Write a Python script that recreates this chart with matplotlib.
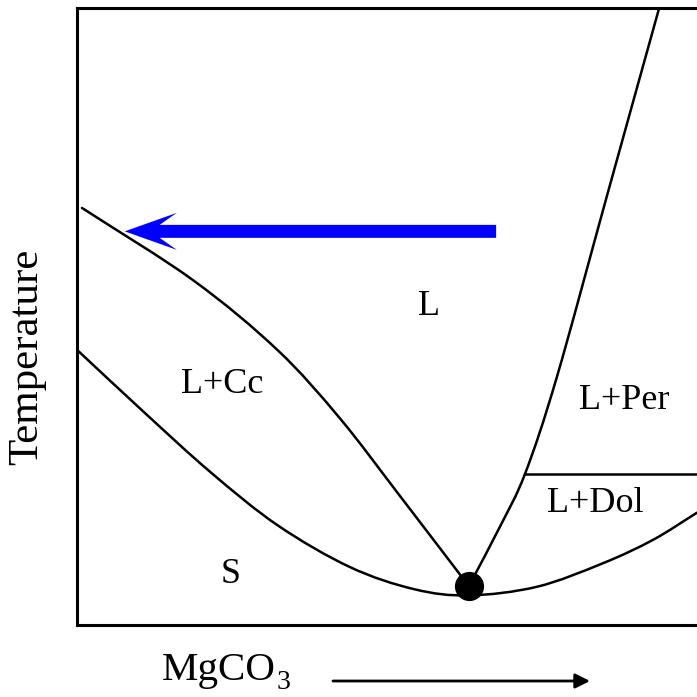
#!/usr/bin/env python3
import matplotlib
matplotlib.use('Agg')
import numpy as np
from matplotlib import pyplot as plt
from matplotlib.path import Path
from matplotlib.patches import PathPatch

plt.rcParams['font.family'] = ['Liberation Serif', 'DejaVu Serif']

# schematic phase boundaries (composition 0-100, temperature 0-100, arbitrary units)
solidus_x = [0.0, 10.8, 21.5, 32.3, 44.0, 54.4, 63.2, 74.2, 84.8, 92.9, 100.0]
solidus_y = [44.6, 34.5, 24.8, 16.2, 9.4, 5.8, 4.8, 6.2, 10.0, 13.8, 18.2]

cc_liquidus_x = [0.8, 18.7, 32.3, 42.4, 52.1, 63.2]
cc_liquidus_y = [67.6, 55.9, 44.6, 33.5, 20.9, 6.3]

per_liquidus_x = [93.9, 85.6, 77.4, 72.3, 68.2, 63.2]
per_liquidus_y = [100.0, 70.0, 40.2, 24.6, 15.9, 6.3]

dol_x = [72.3, 100.0]
dol_y = [24.5, 24.5]

eutectic = (63.2, 6.3)

# blue cooling path arrow
path_start = (67.6, 63.8)
path_end = (7.7, 63.8)

labels = ['L', 'L+Cc', 'L+Per', 'L+Dol', 'S']
label_x = [55.0, 16.8, 81.0, 75.8, 23.1]
label_y = [50.2, 37.6, 35.0, 18.3, 6.8]


def smooth_boundary(ax, xs, ys, lw):
    # draw a smooth bezier through the read points (catmull-rom handles)
    p = np.column_stack([xs, ys])
    p = np.vstack([2 * p[0] - p[1], p, 2 * p[-1] - p[-2]])
    verts = [p[1]]
    codes = [Path.MOVETO]
    for i in range(1, len(p) - 2):
        p0, p1, p2, p3 = p[i - 1], p[i], p[i + 1], p[i + 2]
        verts += [p1 + (p2 - p0) / 6, p2 - (p3 - p1) / 6, p2]
        codes += [Path.CURVE4] * 3
    ax.add_patch(PathPatch(Path(verts, codes), fill=False, edgecolor='black',
                           lw=lw, capstyle='round', joinstyle='round'))


fig = plt.figure(figsize=(6.97, 6.97), dpi=100)
ax = fig.add_axes([77 / 697, 72 / 697, 620 / 697, 617 / 697])
ax.set_xlim(0, 100)
ax.set_ylim(0, 100)
ax.set_xticks([])
ax.set_yticks([])
ax.spines['right'].set_visible(False)
for s in ['left', 'top', 'bottom']:
    ax.spines[s].set_linewidth(2.2)

lw = 1.8
smooth_boundary(ax, solidus_x, solidus_y, lw)
smooth_boundary(ax, cc_liquidus_x, cc_liquidus_y, lw)
smooth_boundary(ax, per_liquidus_x, per_liquidus_y, lw)
ax.plot(dol_x, dol_y, color='black', lw=lw)
ax.plot(*eutectic, 'o', color='black', markersize=20, zorder=5)

ax.arrow(path_start[0], path_start[1], path_end[0] - path_start[0], 0,
         width=2.1, head_width=6.0, head_length=8.4, overhang=0.33,
         length_includes_head=True, color='#0000ff', lw=0)

for t, x, y in zip(labels, label_x, label_y):
    ax.text(x, y, t, fontsize=26, ha='left', va='baseline')

fig.text(27 / 697, 1 - 357 / 697, 'Temperature', rotation=90,
         ha='center', va='center', fontsize=31)
fig.text(162 / 697, 1 - 680 / 697, 'MgCO', ha='left', va='baseline', fontsize=29.5)
fig.text(277 / 697, 1 - 689 / 697, '3', ha='left', va='baseline', fontsize=20)
ax.annotate('', xy=(590 / 697, 1 - 681 / 697), xytext=(333 / 697, 1 - 681 / 697),
            xycoords='figure fraction', textcoords='figure fraction',
            arrowprops=dict(arrowstyle='-|>', lw=2, color='black',
                            mutation_scale=22, shrinkA=0, shrinkB=0))

fig.savefig('out.png', dpi=100)
